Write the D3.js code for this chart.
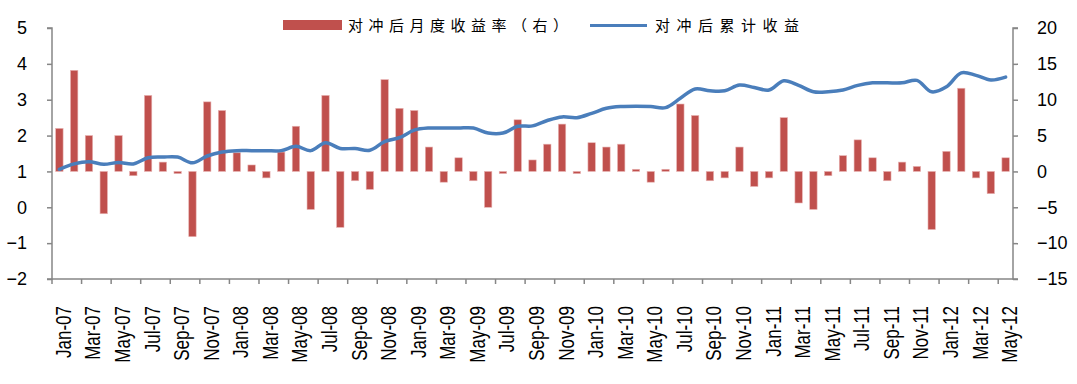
<!DOCTYPE html>
<html>
<head>
<meta charset="utf-8">
<script src="https://cdn.jsdelivr.net/npm/d3@7"></script>
<style>
  body { margin: 0; background: #fff; }
  svg { display: block; font-family: "Liberation Sans", Arial, sans-serif; }
</style>
</head>
<body>
<svg id="chart" width="1077" height="384"></svg>
<script>
const months = [
  'Jan-07','Feb-07','Mar-07','Apr-07','May-07','Jun-07','Jul-07','Aug-07','Sep-07','Oct-07','Nov-07','Dec-07',
  'Jan-08','Feb-08','Mar-08','Apr-08','May-08','Jun-08','Jul-08','Aug-08','Sep-08','Oct-08','Nov-08','Dec-08',
  'Jan-09','Feb-09','Mar-09','Apr-09','May-09','Jun-09','Jul-09','Aug-09','Sep-09','Oct-09','Nov-09','Dec-09',
  'Jan-10','Feb-10','Mar-10','Apr-10','May-10','Jun-10','Jul-10','Aug-10','Sep-10','Oct-10','Nov-10','Dec-10',
  'Jan-11','Feb-11','Mar-11','Apr-11','May-11','Jun-11','Jul-11','Aug-11','Sep-11','Oct-11','Nov-11','Dec-11',
  'Jan-12','Feb-12','Mar-12','Apr-12','May-12'
];

// monthly return after hedge (right axis)
const monthlyReturn = [
  6.0, 14.1, 5.0, -5.9, 5.0, -0.6, 10.6, 1.3, -0.3, -9.1, 9.7, 8.5,
  2.6, 0.9, -0.9, 2.7, 6.3, -5.3, 10.6, -7.8, -1.3, -2.5, 12.8, 8.8,
  8.5, 3.4, -1.5, 1.9, -1.3, -5.0, -0.3, 7.2, 1.6, 3.8, 6.6, -0.3,
  4.0, 3.4, 3.8, 0.3, -1.5, 0.3, 9.4, 7.8, -1.3, -0.9, 3.4, -2.1,
  -0.9, 7.5, -4.4, -5.3, -0.6, 2.2, 4.4, 1.9, -1.3, 1.3, 0.7, -8.1,
  2.8, 11.6, -0.9, -3.1, 1.9
];

// cumulative return after hedge (left axis)
const cumReturn = [
  1.06, 1.21, 1.27, 1.20, 1.25, 1.21, 1.38, 1.40, 1.40, 1.24, 1.43, 1.54,
  1.58, 1.58, 1.58, 1.58, 1.70, 1.58, 1.80, 1.64, 1.64, 1.59, 1.83, 1.94,
  2.15, 2.21, 2.21, 2.21, 2.21, 2.07, 2.07, 2.26, 2.27, 2.42, 2.52, 2.50,
  2.62, 2.76, 2.81, 2.82, 2.81, 2.78, 3.04, 3.30, 3.25, 3.25, 3.41, 3.34,
  3.27, 3.53, 3.40, 3.22, 3.22, 3.27, 3.40, 3.47, 3.47, 3.47, 3.54, 3.22,
  3.36, 3.75, 3.68, 3.55, 3.63
];

const leftTicks = [-2, -1, 0, 1, 2, 3, 4, 5];
const rightTicks = [-15, -10, -5, 0, 5, 10, 15, 20];
const legendLabels = ['对冲后月度收益率（右）', '对冲后累计收益'];

const barColor = '#c0504d';
const lineColor = '#4a7ebb';
const axisColor = '#868686';

const plotLeft = 52, plotRight = 1013, plotTop = 28, plotBottom = 279;

const svg = d3.select('#chart');

const x = d3.scaleBand().domain(months).range([plotLeft, plotRight]).paddingInner(0.5).paddingOuter(0.25);
const yL = d3.scaleLinear().domain([-2, 5]).range([plotBottom, plotTop]);
const yR = d3.scaleLinear().domain([-15, 20]).range([plotBottom, plotTop]);
const step = (plotRight - plotLeft) / months.length;
const cx = m => x(m) + x.bandwidth() / 2;

// bars
svg.append('g').selectAll('rect').data(monthlyReturn)
  .join('rect')
  .attr('x', (d, i) => x(months[i]))
  .attr('width', x.bandwidth())
  .attr('y', d => Math.min(yR(d), yR(0)))
  .attr('height', d => Math.abs(yR(d) - yR(0)))
  .attr('fill', barColor)
  .attr('stroke', '#e8b4b3')
  .attr('stroke-width', 0.6);

// line
const line = d3.line()
  .x((d, i) => cx(months[i]))
  .y(d => yL(d))
  .curve(d3.curveCatmullRom.alpha(0.5));

svg.append('path')
  .datum(cumReturn)
  .attr('d', line)
  .attr('fill', 'none')
  .attr('stroke', lineColor)
  .attr('stroke-width', 3.5)
  .attr('stroke-linejoin', 'round')
  .attr('stroke-linecap', 'round');

// left axis
const gL = svg.append('g').attr('transform', `translate(${plotLeft},0)`)
  .call(d3.axisLeft(yL).tickValues(leftTicks).tickSize(5).tickPadding(20).tickFormat(d3.format('d')));
// right axis
const gR = svg.append('g').attr('transform', `translate(${plotRight},0)`)
  .call(d3.axisRight(yR).tickValues(rightTicks).tickSize(5).tickPadding(19).tickFormat(d3.format('d')));

[gL, gR].forEach(g => {
  g.select('.domain').attr('stroke', axisColor).attr('stroke-width', 1.5);
  g.selectAll('.tick line').attr('stroke', axisColor).attr('stroke-width', 1.5);
  g.selectAll('.tick text').attr('fill', '#000').attr('font-size', 18)
    .attr('font-family', '"Liberation Sans", Arial, sans-serif');
});
gL.select('.domain').attr('d', `M-5,${plotBottom}H0V${plotTop}H-5`);
gR.select('.domain').attr('d', `M5,${plotBottom}H0V${plotTop}H5`);

// bottom axis
const gB = svg.append('g');
gB.append('line')
  .attr('x1', plotLeft).attr('x2', plotRight).attr('y1', plotBottom).attr('y2', plotBottom)
  .attr('stroke', axisColor).attr('stroke-width', 1.5);
gB.selectAll('line.tk').data(months.filter((m, i) => i % 2 === 0))
  .join('line').attr('class', 'tk')
  .attr('x1', m => x(m) - step * 0.25).attr('x2', m => x(m) - step * 0.25)
  .attr('y1', plotBottom).attr('y2', plotBottom + 5)
  .attr('stroke', axisColor).attr('stroke-width', 1.5);
// labels look horizontally stretched in the source, so widen glyph height a bit
gB.selectAll('text').data(months.filter((m, i) => i % 2 === 0))
  .join('text')
  .attr('transform', m => `translate(${cx(m) + 11.5},306) rotate(-90) scale(1,1.28)`)
  .attr('text-anchor', 'end')
  .attr('font-size', 17)
  .attr('fill', '#000')
  .text(m => m);

// legend
const lg = svg.append('g').attr('font-family', '"Noto Sans CJK SC", sans-serif');
lg.append('rect').attr('x', 283).attr('y', 20).attr('width', 59).attr('height', 10).attr('fill', barColor);
lg.append('text').attr('x', 348).attr('y', 31).attr('font-size', 15).attr('letter-spacing', 5.5)
  .attr('fill', '#000').text(legendLabels[0]);
lg.append('line').attr('x1', 590).attr('x2', 647).attr('y1', 25.5).attr('y2', 25.5)
  .attr('stroke', lineColor).attr('stroke-width', 3);
lg.append('text').attr('x', 655).attr('y', 31).attr('font-size', 15).attr('letter-spacing', 6.5)
  .attr('fill', '#000').text(legendLabels[1]);
</script>
</body>
</html>
